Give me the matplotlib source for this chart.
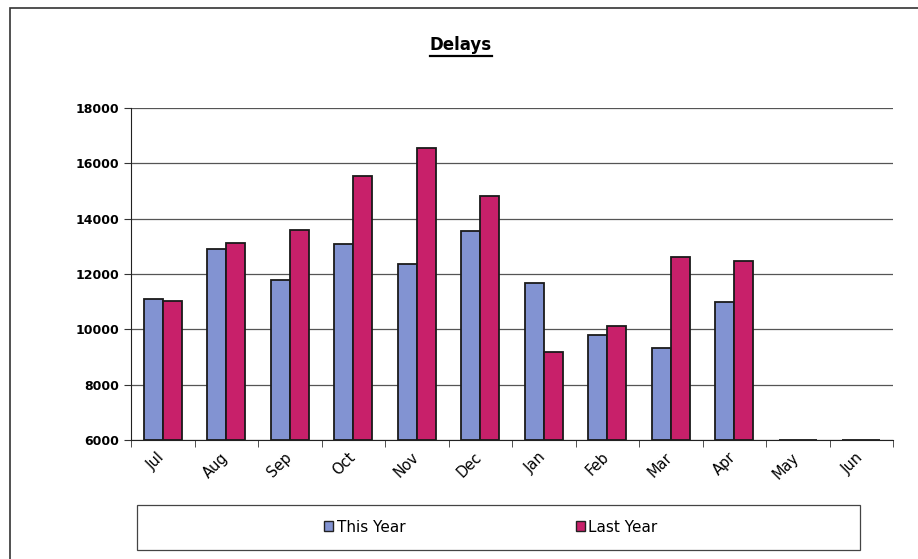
import numpy as np
import matplotlib.pyplot as plt
from matplotlib.patches import Rectangle
from matplotlib.transforms import ScaledTranslation

months = ['Jul', 'Aug', 'Sep', 'Oct', 'Nov', 'Dec',
          'Jan', 'Feb', 'Mar', 'Apr', 'May', 'Jun']
this_year = [11100, 12900, 11780, 13080, 12360, 13550,
             11670, 9790, 9320, 10990, 0, 0]
last_year = [11020, 13120, 13590, 15540, 16550, 14820,
             9180, 10120, 12610, 12470, 0, 0]
y_ticks = [6000, 8000, 10000, 12000, 14000, 16000, 18000]

blue = '#8293d2'
red = '#c8206a'
ymin, ymax = 6000, 18000

fig = plt.figure(figsize=(9.18, 5.59), dpi=100)
ax = fig.add_axes([131/918, 1-440/559, 762/918, 332/559])

x = np.arange(len(months))
w = 0.3
tv = np.array(this_year, dtype=float)
lv = np.array(last_year, dtype=float)
# bars start at the axis floor; empty months give a flat dash on the baseline
ax.bar(x - w/2, np.where(tv > 0, tv - ymin, 0), w, bottom=ymin, color=blue,
       edgecolor='#1a1a1a', linewidth=1.3, zorder=3)
ax.bar(x + w/2, np.where(lv > 0, lv - ymin, 0), w, bottom=ymin, color=red,
       edgecolor='#1a1a1a', linewidth=1.3, zorder=3)

ax.set_xlim(-0.5, len(months) - 0.5)
ax.set_ylim(ymin, ymax)
ax.set_yticks(y_ticks)
ax.set_yticklabels([str(v) for v in y_ticks], fontsize=9, fontweight='bold')
ax.yaxis.grid(True, color='#555555', linewidth=0.9, zorder=0)
ax.set_axisbelow(True)

ax.set_xticks(x)
ax.set_xticklabels(months, rotation=45, fontsize=10.5, ha='right',
                   rotation_mode='anchor')
ax.tick_params(axis='x', length=0, pad=7)
shift = ScaledTranslation(-6/100, 0, fig.dpi_scale_trans)
for lab in ax.get_xticklabels():
    lab.set_transform(lab.get_transform() + shift)
ax.set_xticks(np.arange(-0.5, len(months)), minor=True)
ax.tick_params(axis='x', which='minor', length=5, color='#333333')
ax.tick_params(axis='y', length=5, color='#333333')

for s in ['top', 'right']:
    ax.spines[s].set_visible(False)
for s in ['left', 'bottom']:
    ax.spines[s].set_color('#222222')

title = fig.text(461/918, 1-45/559, 'Delays', ha='center', va='center',
                 fontsize=12, fontweight='bold')
# underline the title using its drawn extent
fig.canvas.draw()
bb = title.get_window_extent().transformed(fig.transFigure.inverted())
fig.add_artist(plt.Line2D([bb.x0, bb.x1], [bb.y0 - 0.004, bb.y0 - 0.004],
                          color='black', linewidth=1.6))

# legend box
fig.add_artist(Rectangle((137/918, 1-550/559), 723/918, 45/559,
                         fill=False, edgecolor='#444444', linewidth=0.9,
                         transform=fig.transFigure))
h1 = Rectangle((0, 0), 1, 1, facecolor=blue, edgecolor='#222222')
h2 = Rectangle((0, 0), 1, 1, facecolor=red, edgecolor='#222222')
fig.legend([h1, h2], ['This Year', 'Last Year'], ncol=2, frameon=False,
           loc='center', bbox_to_anchor=(491/918, 1-527/559),
           fontsize=11, handlelength=0.6, handleheight=0.6,
           handletextpad=0.2, columnspacing=11.2)

# outer chart frame
fig.add_artist(Rectangle((10/918, -0.01), 0.995, 1-8/559 + 0.01, fill=False,
                         edgecolor='#333333', linewidth=1.2,
                         transform=fig.transFigure))

fig.savefig('out.png', dpi=100)
